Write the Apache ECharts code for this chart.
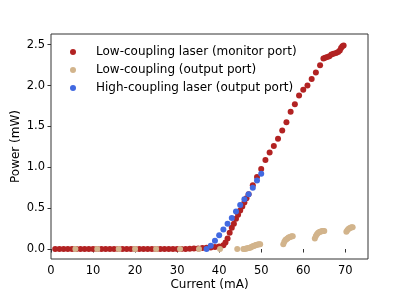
<!DOCTYPE html>
<html>
<head>
<meta charset="utf-8">
<script src="https://cdn.jsdelivr.net/npm/echarts@6/dist/echarts.min.js"></script>
<style>html,body{margin:0;padding:0;background:#fff}#c{width:409px;height:292px}</style>
</head>
<body>
<div id="c"></div>
<script>
// Low-coupling laser (monitor port)
var redX = [1,2,3,4,5,6,7,8,9,10,11,12,13,14,15,16,17,18,19,20,21,22,23,24,25,26,27,28,29,30,31,32,33,34,35,36,37,38,39,40,41,
  41.5,42,42.5,43,43.5,44,44.5,45,45.5,46,46.5,47,48,49,50,51,52,53,54,55,56,57,58,59,60,61,62,63,64,64.8,
  65.2,65.7,66.2,66.7,67.2,67.8,68.3,68.7,69.0,69.3,69.6];
var redY = [0,0,0,0,0,0,0,0,0,0,0,0,0,0,0,0,0,0,0,0,0,0,0,0,0,0,0,0,0,0,0,0,0.003,0.005,0.008,0.012,0.015,0.02,0.025,0.03,0.045,
  0.08,0.13,0.2,0.26,0.31,0.37,0.42,0.47,0.52,0.57,0.62,0.67,0.78,0.88,0.98,1.09,1.18,1.26,1.35,1.45,1.55,1.68,1.77,1.88,1.95,2.0,2.08,2.16,2.25,2.33,
  2.34,2.35,2.36,2.38,2.39,2.40,2.41,2.43,2.46,2.48,2.49];
// Low-coupling (output port)
var tanX = [5.8,11.0,16.1,20.0,25.0,30.7,35.2,40.2,44.3,
  45.75,46,46.25,46.5,46.75,47,47.25,47.5,47.75,48,48.25,48.5,48.75,49,49.25,49.5,49.75,
  55.25,55.5,55.75,56,56.25,56.5,56.75,57,57.25,57.5,
  62.75,63,63.25,63.5,63.75,64,64.25,64.5,64.75,65,
  70.25,70.5,70.75,71,71.25,71.5,71.75];
var tanY = [0,0,0,0,0,0,0,0,0,
  0,0,0.003,0.006,0.01,0.013,0.017,0.02,0.027,0.033,0.038,0.043,0.048,0.052,0.055,0.057,0.058,
  0.06,0.09,0.11,0.12,0.13,0.14,0.145,0.15,0.155,0.155,
  0.13,0.16,0.18,0.195,0.205,0.21,0.215,0.22,0.22,0.22,
  0.21,0.23,0.245,0.255,0.26,0.265,0.265];
// High-coupling laser (output port)
var blueX = [37,38,39,40,41,42,43,44,45,46,47,48,49,50];
var blueY = [0.0,0.04,0.10,0.17,0.24,0.31,0.38,0.46,0.54,0.61,0.67,0.75,0.84,0.92];

var xTicks = [0,10,20,30,40,50,60,70];
var yTicks = [0,0.5,1.0,1.5,2.0,2.5];
var seriesNames = ['Low-coupling laser (monitor port)','Low-coupling (output port)','High-coupling laser (output port)'];

function zip(a,b){return a.map(function(v,i){return [v,b[i]];});}

var font = 'DejaVu Sans';
var chart = echarts.init(document.getElementById('c'), null, {renderer:'canvas'});
chart.setOption({
  animation:false,
  backgroundColor:'#fff',
  grid:{left:51,right:41,top:34,bottom:33,show:true,borderColor:'#333',borderWidth:1,backgroundColor:'transparent',outerBoundsMode:'none',containLabel:false},
  legend:{
    orient:'vertical',left:65,top:41,padding:5,itemWidth:6,itemHeight:6,itemGap:6,icon:'circle',
    textStyle:{fontFamily:font,fontSize:12,lineHeight:12,color:'#000',padding:[0,0,0,15]},
    data:seriesNames
  },
  xAxis:{
    type:'value',min:0,max:75.4,
    name:'Current (mA)',nameLocation:'middle',nameGap:20,nameMoveOverlap:false,
    nameTextStyle:{fontFamily:font,fontSize:12,color:'#000'},
    axisLine:{show:false},
    splitLine:{show:false},
    axisTick:{show:true,length:3.5,lineStyle:{color:'#333'},customValues:xTicks},
    axisLabel:{fontFamily:font,fontSize:11.5,color:'#000',margin:6,customValues:xTicks,formatter:function(v){return String(v);}}
  },
  yAxis:{
    type:'value',min:-0.122,max:2.631,
    name:'Power (mW)',nameLocation:'middle',nameGap:29,nameMoveOverlap:false,
    nameTextStyle:{fontFamily:font,fontSize:12,color:'#000'},
    axisLine:{show:false},
    splitLine:{show:false},
    axisTick:{show:true,length:3.5,lineStyle:{color:'#333'},customValues:yTicks},
    axisLabel:{fontFamily:font,fontSize:11.5,color:'#000',margin:6,customValues:yTicks,formatter:function(v){return v.toFixed(1);}}
  },
  series:[
    {name:seriesNames[0],type:'scatter',symbolSize:6,itemStyle:{color:'#B22222',opacity:1},data:zip(redX,redY),z:2},
    {name:seriesNames[1],type:'scatter',symbolSize:6,itemStyle:{color:'#D2B48C',opacity:1},data:zip(tanX,tanY),z:3},
    {name:seriesNames[2],type:'scatter',symbolSize:6,itemStyle:{color:'#4169E1',opacity:1},data:zip(blueX,blueY),z:4}
  ]
});
</script>
</body>
</html>
